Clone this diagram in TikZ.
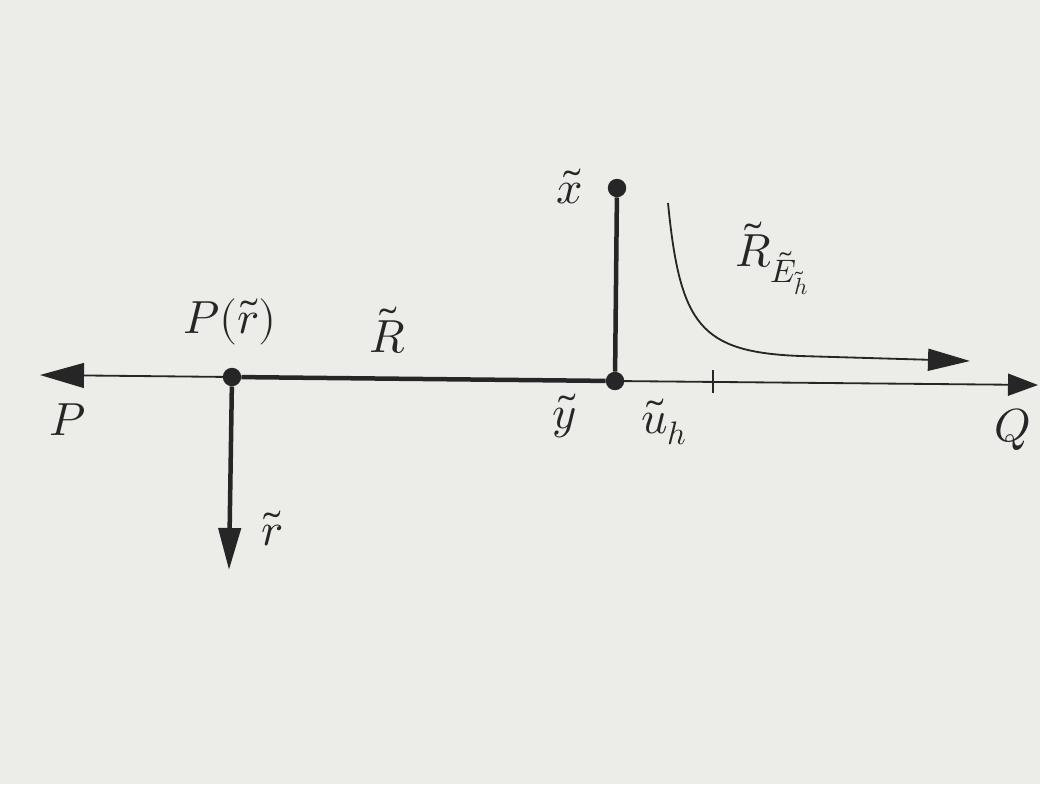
\documentclass[tikz,border=0pt]{standalone}
\usepackage{amsmath}
\usepackage{unicode-math}
\setmathfont{Latin Modern Math}
\usepackage{xcolor}
\usetikzlibrary{arrows.meta}
\definecolor{paper}{RGB}{236,236,233}
\definecolor{ink}{RGB}{38,38,38}
\tikzset{thinline/.style={ink, line width=1.3pt},
  thickline/.style={ink, line width=3.2pt},
  bigtip/.style={-{Triangle[length=1.1cm, width=0.62cm]}},
  dot/.style={circle, fill=ink, inner sep=0pt, minimum size=0.46cm},
  lbl/.style={ink, inner sep=1pt, font=\fontsize{33}{36}\selectfont}}

\begin{document}
\begin{tikzpicture}[x=0.025cm, y=-0.025cm]
  \fill[paper] (0,0) rectangle (1040,784);
  \useasboundingbox (0,0) rectangle (1040,784);
  % points on the line
  \coordinate (lft) at (40,375);
  \coordinate (rgt) at (1038,385);
  \node[dot] (pr) at (232,377) {};
  \node[dot] (yy) at (615,381) {};
  \node[dot] (xx) at (617,188) {};
  \coordinate (rdown) at (229,570);
  \coordinate (ticktop) at (713,370);
  \coordinate (tickbot) at (713,393);
  % the line with both ends
  \draw[thinline, bigtip] (pr.center) -- (lft);
  \draw[thinline, -{Triangle[length=0.75cm, width=0.55cm]}] (yy.center) -- (rgt);
  \draw[thickline] (pr) -- (yy);
  \draw[thickline] (yy) -- (xx);
  \draw[thickline, -{Triangle[length=1.05cm, width=0.55cm]}] (pr) -- (rdown);
  \draw[thinline] (ticktop) -- (tickbot);
  % decaying curve
  \coordinate (ctop) at (668,203);
  \coordinate (cmid) at (800,356);
  \coordinate (cend) at (970,361);
  \draw[thinline, -{Triangle[length=1.05cm, width=0.55cm]}]
    (ctop) .. controls (680,325) and (700,352) .. (cmid) -- (cend);
  % labels
  \node[lbl] (lp) at (68,420) {$P$};
  \node[lbl] (lq) at (1013,430) {$Q$};
  \node[lbl] (lpr) at (230,322) {$P(\tilde r)$};
  \node[lbl] (lR) at (388,330) {$\tilde R$};
  \node[lbl] (lx) at (570,186) {$\tilde x$};
  \node[lbl] (ly) at (565,416) {$\tilde y$};
  \node[lbl] (lu) at (664,422) {$\tilde u_h$};
  \node[lbl] (lr) at (272,528) {$\tilde r$};
  \node[lbl] (lRE) at (772,258) {$\tilde R_{\tilde E_{\tilde h}}$};
\end{tikzpicture}
\end{document}
